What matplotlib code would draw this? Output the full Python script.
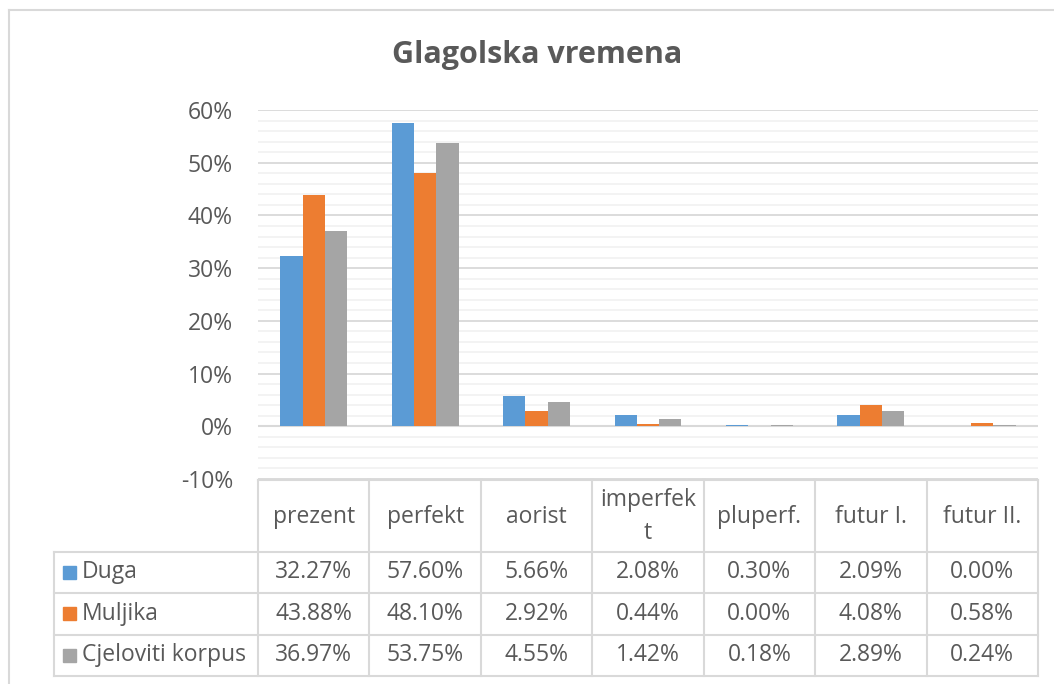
import numpy as np
import matplotlib.pyplot as plt
from matplotlib.lines import Line2D
from matplotlib.patches import Rectangle
from matplotlib.ticker import MultipleLocator, PercentFormatter

plt.rcParams['font.family'] = ['Open Sans', 'DejaVu Sans']
plt.rcParams['axes.unicode_minus'] = False

# podaci
kategorije = ['prezent', 'perfekt', 'aorist', 'imperfek\nt', 'pluperf.', 'futur I.', 'futur II.']
serije = ['Duga', 'Muljika', 'Cjeloviti korpus']
duga = [32.27, 57.60, 5.66, 2.08, 0.30, 2.09, 0.00]
muljika = [43.88, 48.10, 2.92, 0.44, 0.00, 4.08, 0.58]
korpus = [36.97, 53.75, 4.55, 1.42, 0.18, 2.89, 0.24]
boje = ['#5b9bd5', '#ed7d31', '#a5a5a5']

tekst = '#595959'
crta = '#d9d9d9'
W, H = 1054, 684
fs = 16.5

fig = plt.figure(figsize=(W / 100, H / 100), dpi=100)

def px(x0, y0, x1, y1):
    # pikseli (od gornjeg lijevog kuta) -> koordinate figure
    return [x0 / W, 1 - y1 / H, (x1 - x0) / W, (y1 - y0) / H]

# vanjski okvir
fig.add_artist(Line2D([9 / W, 9 / W], [0, 1 - 10 / H], color=crta, lw=1.5))
fig.add_artist(Line2D([9 / W, 1], [1 - 10 / H, 1 - 10 / H], color=crta, lw=1.5))

fig.text(537 / W, 1 - 55 / H, 'Glagolska vremena', ha='center', va='center',
         fontsize=22, fontweight='bold', color=tekst)

ax = fig.add_axes(px(258, 110, 1038, 479))
x = np.arange(len(kategorije))
sirina = 0.2
for i, (vals, boja) in enumerate(zip([duga, muljika, korpus], boje)):
    ax.bar(x + (i - 1) * sirina, np.array(vals) / 100, sirina, color=boja,
           linewidth=0, zorder=3)

ax.set_xlim(-0.5, len(kategorije) - 0.5)
ax.set_ylim(-0.1, 0.6)
ax.yaxis.set_major_locator(MultipleLocator(0.1))
ax.yaxis.set_minor_locator(MultipleLocator(0.02))
ax.yaxis.set_major_formatter(PercentFormatter(1.0, decimals=0))
ax.grid(axis='y', which='minor', color='#f2f2f2', lw=1.3, zorder=0)
ax.grid(axis='y', which='major', color=crta, lw=1.3, zorder=1)
ax.axhline(0, color=crta, lw=1.5, zorder=2)
ax.tick_params(axis='y', which='both', length=0, pad=18, labelsize=fs, labelcolor=tekst)
ax.set_xticks([])
for s in ax.spines.values():
    s.set_visible(False)

# tablica podataka
tx = fig.add_axes(px(54, 479, 1038, 677))
lijevo = -0.5 - 204 / 111.43
tx.set_xlim(lijevo, len(kategorije) - 0.5)
tx.set_ylim(677, 479)
tx.axis('off')

redovi = [552, 593, 635, 676]
kw = dict(color=crta, lw=1.5, clip_on=False)
tx.plot([-0.5, len(kategorije) - 0.5], [480, 480], **kw)
for y in redovi:
    tx.plot([lijevo, len(kategorije) - 0.5], [y, y], **kw)
tx.plot([lijevo, lijevo], [redovi[0], redovi[-1]], **kw)
for k in range(len(kategorije) + 1):
    tx.plot([k - 0.5, k - 0.5], [480, redovi[-1]], **kw)

for k, naziv in enumerate(kategorije):
    tx.text(k, 517, naziv, ha='center', va='center', fontsize=fs, color=tekst,
            linespacing=1.5)

for r, (ime, vals, boja) in enumerate(zip(serije, [duga, muljika, korpus], boje)):
    yc = (redovi[r] + redovi[r + 1]) / 2
    tx.add_patch(Rectangle((lijevo + 9 / 111.43, yc - 6.5), 13 / 111.43, 13,
                           color=boja, clip_on=False))
    tx.text(lijevo + 28 / 111.43, yc, ime, ha='left', va='center', fontsize=fs, color=tekst)
    for k, v in enumerate(vals):
        tx.text(k, yc, f'{v:.2f}%', ha='center', va='center', fontsize=fs, color=tekst)

fig.savefig('out.png', dpi=100, facecolor='white')
